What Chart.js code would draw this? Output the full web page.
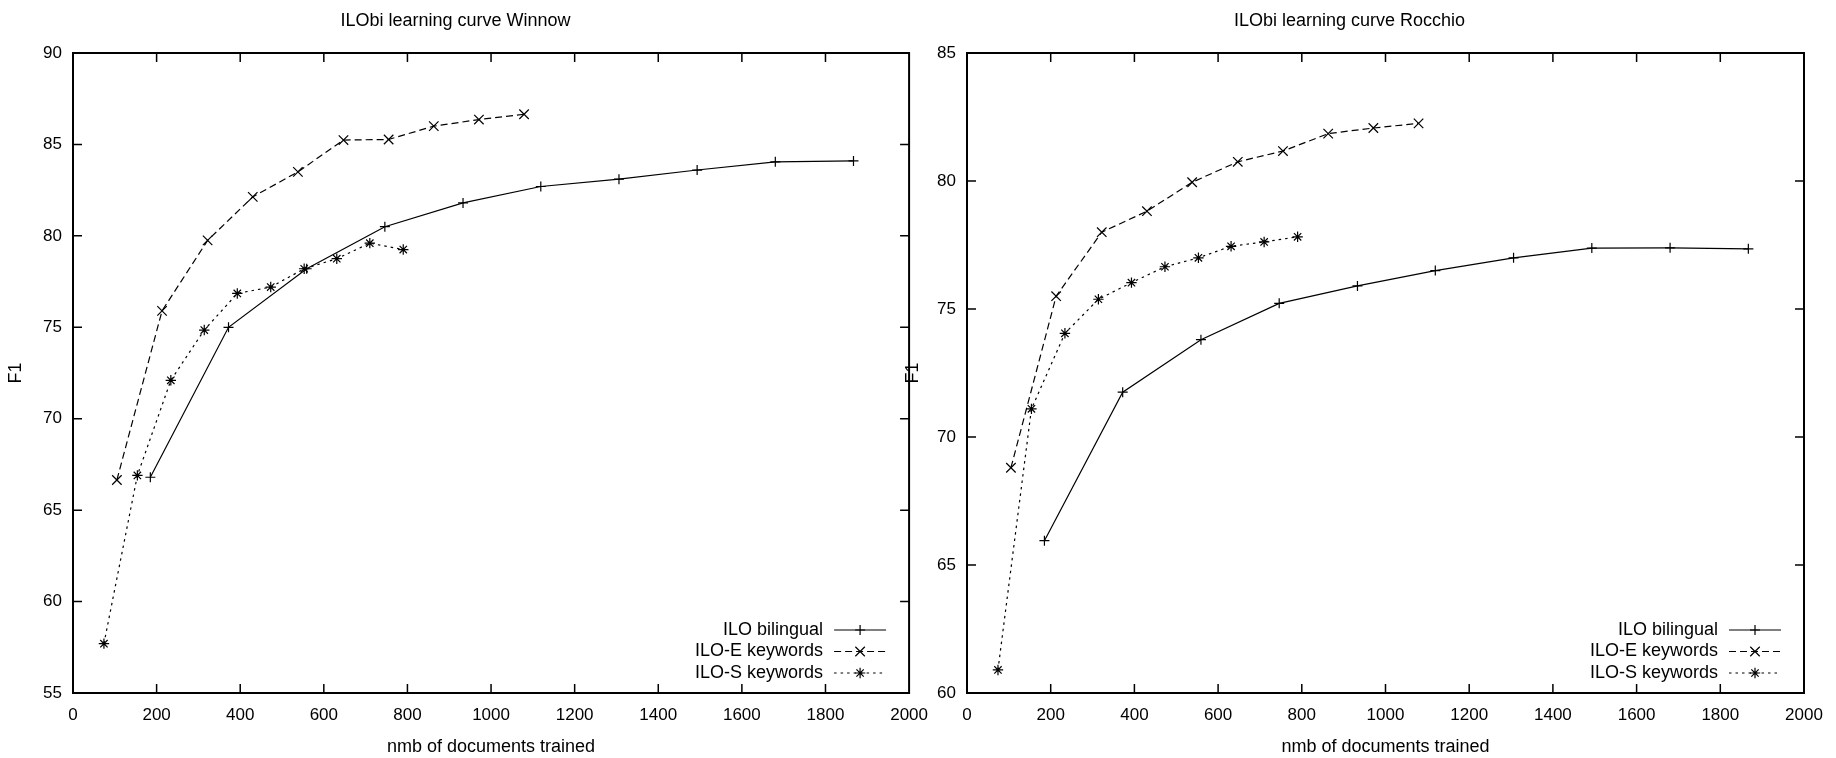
<!DOCTYPE html>
<html><head><meta charset="utf-8">
<script src="https://cdn.jsdelivr.net/npm/chart.js@4.4.1/dist/chart.umd.min.js"></script>
<style>
html,body{margin:0;padding:0;background:#fff;width:1836px;height:758px;overflow:hidden}
canvas{position:absolute;top:0}
#c1{left:0}
#c2{left:895px}
</style></head><body>
<canvas id="c1" width="940" height="758"></canvas>
<canvas id="c2" width="941" height="758"></canvas>
<script>
// ---- data ----
const seriesNames = ['ILO bilingual', 'ILO-E keywords', 'ILO-S keywords'];
const docsBilingual = [185, 372, 559, 746, 933, 1119, 1306, 1493, 1680, 1867];
const docsEnglish   = [105, 213, 322, 430, 538, 647, 755, 863, 971, 1079];
const docsSpanish   = [74, 154, 234, 314, 393, 473, 553, 631, 710, 790];

const winnowBilingual = [66.8, 75.0, 78.2, 80.5, 81.8, 82.7, 83.1, 83.6, 84.05, 84.1];
const winnowEnglish   = [66.65, 75.9, 79.75, 82.13, 83.5, 85.24, 85.27, 86.0, 86.36, 86.65];
const winnowSpanish   = [57.7, 66.9, 72.1, 74.85, 76.85, 77.2, 78.2, 78.75, 79.6, 79.25];

const rocchioBilingual = [65.95, 71.75, 73.8, 75.22, 75.9, 76.5, 77.0, 77.38, 77.39, 77.35];
const rocchioEnglish   = [68.8, 75.5, 78.0, 78.82, 79.95, 80.75, 81.17, 81.85, 82.07, 82.25];
const rocchioSpanish   = [60.9, 71.1, 74.05, 75.38, 76.03, 76.65, 77.0, 77.45, 77.62, 77.82];

const xTicks = [0, 200, 400, 600, 800, 1000, 1200, 1400, 1600, 1800, 2000];

// ---- styling ----
const FONT = '"Liberation Sans", Arial, Helvetica, sans-serif';
Chart.defaults.font.family = FONT;
Chart.defaults.color = '#000';

function pts(xs, ys) { return xs.map((x, i) => ({x: x, y: ys[i]})); }

function drawMarker(ctx, style, r, cx, cy) {
  ctx.beginPath();
  if (style === 'cross' || style === 'star') {
    ctx.moveTo(cx - r, cy); ctx.lineTo(cx + r, cy);
    ctx.moveTo(cx, cy - r); ctx.lineTo(cx, cy + r);
  }
  if (style === 'crossRot' || style === 'star') {
    const d = r * Math.SQRT1_2;
    ctx.moveTo(cx - d, cy - d); ctx.lineTo(cx + d, cy + d);
    ctx.moveTo(cx - d, cy + d); ctx.lineTo(cx + d, cy - d);
  }
  ctx.stroke();
}

const framePlugin = {
  id: 'frame',
  afterDatasetsDraw(chart) {
    const {ctx, chartArea: a, scales} = chart;
    const x = scales.x, y = scales.y;
    ctx.save();
    ctx.strokeStyle = '#000';
    ctx.setLineDash([]);
    ctx.lineWidth = 1.5;
    const tl = 9;
    ctx.beginPath();
    x.ticks.forEach(t => {
      const p = x.getPixelForValue(t.value);
      if (p <= a.left + 1 || p >= a.right - 1) return;
      ctx.moveTo(p, a.bottom); ctx.lineTo(p, a.bottom - tl);
      ctx.moveTo(p, a.top); ctx.lineTo(p, a.top + tl);
    });
    y.ticks.forEach(t => {
      const p = y.getPixelForValue(t.value);
      if (p <= a.top + 1 || p >= a.bottom - 1) return;
      ctx.moveTo(a.left, p); ctx.lineTo(a.left + tl, p);
      ctx.moveTo(a.right, p); ctx.lineTo(a.right - tl, p);
    });
    ctx.stroke();
    ctx.lineWidth = 2;
    ctx.strokeRect(a.left, a.top, a.right - a.left, a.bottom - a.top);
    ctx.restore();
  }
};

const keyPlugin = {
  id: 'gnukey',
  afterDatasetsDraw(chart) {
    const {ctx, chartArea: a} = chart;
    const rows = [63, 41.5, 20];
    ctx.save();
    ctx.font = '18px ' + FONT;
    ctx.fillStyle = '#000';
    ctx.textAlign = 'right';
    ctx.textBaseline = 'middle';
    chart.data.datasets.forEach((ds, i) => {
      const yy = a.bottom - rows[i];
      ctx.fillText(ds.label, a.right - 86, yy);
      ctx.strokeStyle = '#000';
      ctx.lineWidth = ds.borderWidth;
      ctx.setLineDash(ds.borderDash || []);
      ctx.beginPath();
      ctx.moveTo(a.right - 75, yy); ctx.lineTo(a.right - 23, yy);
      ctx.stroke();
      ctx.setLineDash([]);
      ctx.lineWidth = ds.pointBorderWidth;
      drawMarker(ctx, ds.pointStyle, ds.pointRadius, a.right - 49, yy);
    });
    ctx.restore();
  }
};

function makeChart(id, title, yMin, yMax, vals, yWidth, rightPad, yTitlePad) {
  const styles = [
    {pointStyle: 'cross', pointRadius: 5, borderDash: []},
    {pointStyle: 'crossRot', pointRadius: 6.7, borderDash: [7, 4]},
    {pointStyle: 'star', pointRadius: 5.2, borderDash: [2.5, 4]}
  ];
  const xs = [docsBilingual, docsEnglish, docsSpanish];
  const datasets = vals.map((v, i) => ({
    label: seriesNames[i],
    data: pts(xs[i], v),
    showLine: true,
    borderColor: '#000',
    backgroundColor: '#000',
    borderWidth: 1.2,
    borderDash: styles[i].borderDash,
    pointStyle: styles[i].pointStyle,
    pointRadius: styles[i].pointRadius,
    pointHoverRadius: styles[i].pointRadius,
    pointBorderWidth: 1.2,
    pointBorderColor: '#000',
    pointBackgroundColor: '#000',
    tension: 0
  }));
  return new Chart(document.getElementById(id), {
    type: 'scatter',
    data: {datasets},
    options: {
      responsive: false,
      animation: false,
      devicePixelRatio: 1,
      layout: {padding: {top: 0, left: 0, right: rightPad, bottom: 0}},
      plugins: {
        legend: {display: false},
        tooltip: {enabled: false},
        title: {
          display: true, text: title, color: '#000',
          font: {size: 18, weight: 'normal', lineHeight: 1.2},
          padding: {top: 10, bottom: 21.4}
        }
      },
      scales: {
        x: {
          type: 'linear', min: 0, max: 2000,
          afterBuildTicks: s => { s.ticks = xTicks.map(v => ({value: v})); },
          afterFit: s => { s.height = 65; },
          grid: {display: false, drawTicks: false},
          border: {display: false},
          ticks: {color: '#000', font: {size: 17}, padding: 12, maxRotation: 0, autoSkip: false,
                  callback: v => String(v)},
          title: {display: true, text: 'nmb of documents trained', color: '#000',
                  font: {size: 18, lineHeight: 1.2}, padding: {top: 0, bottom: 0}}
        },
        y: {
          type: 'linear', min: yMin, max: yMax,
          ticks: {stepSize: 5, color: '#000', font: {size: 17}, padding: 11,
                  callback: v => String(v)},
          afterFit: s => { s.width = yWidth; },
          grid: {display: false, drawTicks: false},
          border: {display: false},
          title: {display: true, text: 'F1', color: '#000',
                  font: {size: 18, lineHeight: 1.2}, padding: {top: yTitlePad, bottom: 0}}
        }
      }
    },
    plugins: [framePlugin, keyPlugin]
  });
}

makeChart('c1', 'ILObi learning curve Winnow', 55, 90,
  [winnowBilingual, winnowEnglish, winnowSpanish], 73, 29, 5.2);
makeChart('c2', 'ILObi learning curve Rocchio', 60, 85,
  [rocchioBilingual, rocchioEnglish, rocchioSpanish], 72, 32, 7.2);
</script>
</body></html>
